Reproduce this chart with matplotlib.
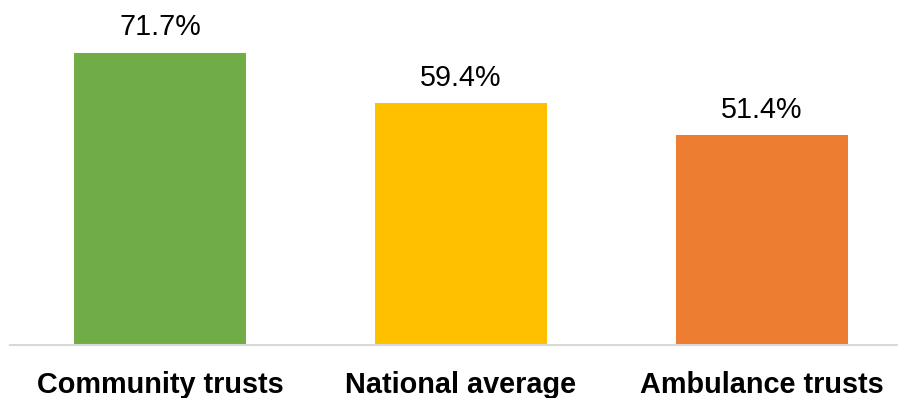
import matplotlib.pyplot as plt

categories = ['Community trusts', 'National average', 'Ambulance trusts']
values = [71.7, 59.4, 51.4]
colors = ['#70AD47', '#FFC000', '#ED7D31']

plt.rcParams['font.family'] = ['Liberation Sans', 'DejaVu Sans']

fig = plt.figure(figsize=(8.98, 3.98), dpi=100)
W, H = 898, 398
ax = fig.add_axes([10 / W, (H - 345) / H, 888 / W, 345 / H])

x = range(len(categories))
bars = ax.bar(x, values, width=0.57, color=colors)

ax.set_xlim(-0.498, 2.452)
ax.set_ylim(0, 84.6)

for b, v in zip(bars, values):
    ax.annotate(f'{v:.1f}%', (b.get_x() + b.get_width() / 2, v),
                xytext=(0, 8), textcoords='offset points',
                ha='center', va='bottom', fontsize=20.7, color='#000000')

ax.set_xticks(list(x))
ax.set_xticklabels(categories, fontsize=20.8, fontweight='bold')
ax.tick_params(axis='x', length=0, pad=19)
ax.set_yticks([])

for side in ['top', 'right', 'left']:
    ax.spines[side].set_visible(False)
ax.spines['bottom'].set_color('#D9D9D9')
ax.spines['bottom'].set_linewidth(1.5)

fig.savefig('out.png', dpi=100)
